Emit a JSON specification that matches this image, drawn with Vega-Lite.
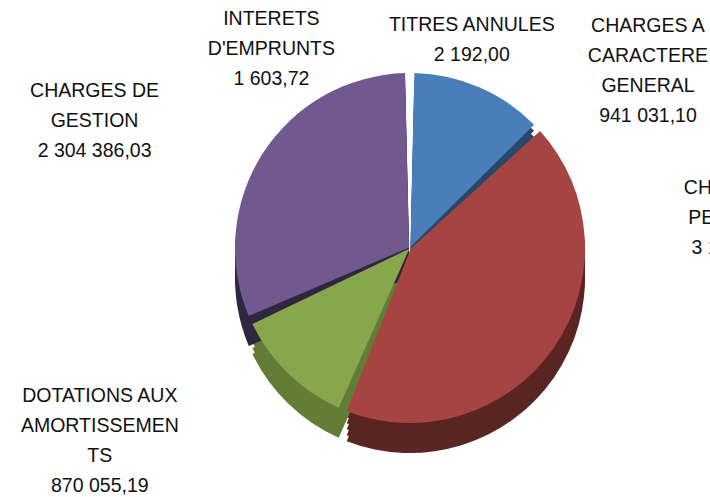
{
  "$schema": "https://vega.github.io/schema/vega-lite/v6.json",
  "width": 600,
  "height": 496,
  "autosize": {"type": "none"},
  "padding": {"left": 110, "top": 0, "right": 0, "bottom": 1},
  "background": "white",
  "config": {"view": {"stroke": null}, "text": {"font": "Liberation Sans", "fontSize": 19.5, "color": "#111111", "lineHeight": 30, "lineBreak": "\n"}},
  "data": {"values": [
    {"ord": 1, "cat": "CHARGES A CARACTERE GENERAL", "value": 941031.10, "label": "CHARGES A\nCARACTERE\nGENERAL\n941 031,10"},
    {"ord": 2, "cat": "CHARGES DE PERSONNEL", "value": 3150000.00, "label": "CHARGES DE\nPERSONNEL\n3 150 000,00"},
    {"ord": 3, "cat": "DOTATIONS AUX AMORTISSEMENTS", "value": 870055.19, "label": "DOTATIONS AUX\nAMORTISSEMEN\nTS\n870 055,19"},
    {"ord": 4, "cat": "CHARGES DE GESTION", "value": 2304386.03, "label": "CHARGES DE\nGESTION\n2 304 386,03"},
    {"ord": 5, "cat": "INTERETS D'EMPRUNTS", "value": 1603.72, "label": "INTERETS\nD'EMPRUNTS\n1 603,72"},
    {"ord": 6, "cat": "TITRES ANNULES", "value": 2192.00, "label": "TITRES  ANNULES\n2 192,00"}
  ]},
  "encoding": {
    "theta": {"field": "value", "type": "quantitative", "stack": true},
    "order": {"field": "ord", "type": "quantitative"}
  },
  "layer": [
    {"mark": {"type": "arc", "outerRadius": 175, "innerRadius": 1, "padAngle": 0.05, "yOffset": 6},
     "encoding": {"color": {"field": "cat", "type": "nominal", "legend": null, "sort": null,
       "scale": {"domain": ["CHARGES A CARACTERE GENERAL", "CHARGES DE PERSONNEL", "DOTATIONS AUX AMORTISSEMENTS", "CHARGES DE GESTION", "INTERETS D'EMPRUNTS", "TITRES ANNULES"],
                 "range": ["#2A4668", "#5A2422", "#637C36", "#2F2640", "#2E6B7A", "#9A5A26"]}}}},
    {"mark": {"type": "arc", "outerRadius": 175, "innerRadius": 1, "padAngle": 0.05, "yOffset": 12},
     "encoding": {"color": {"field": "cat", "type": "nominal", "legend": null, "sort": null}}},
    {"mark": {"type": "arc", "outerRadius": 175, "innerRadius": 1, "padAngle": 0.05, "yOffset": 18},
     "encoding": {"color": {"field": "cat", "type": "nominal", "legend": null, "sort": null}}},
    {"mark": {"type": "arc", "outerRadius": 175, "innerRadius": 1, "padAngle": 0.05, "yOffset": 24},
     "encoding": {"color": {"field": "cat", "type": "nominal", "legend": null, "sort": null}}},
    {"mark": {"type": "arc", "outerRadius": 175, "innerRadius": 1, "padAngle": 0.05, "yOffset": 30},
     "encoding": {"color": {"field": "cat", "type": "nominal", "legend": null, "sort": null}}},
    {"mark": {"type": "arc", "outerRadius": 175, "innerRadius": 1, "padAngle": 0.05, "yOffset": 0},
     "encoding": {"fill": {"field": "cat", "type": "nominal", "legend": null, "sort": null,
       "scale": {"domain": ["CHARGES A CARACTERE GENERAL", "CHARGES DE PERSONNEL", "DOTATIONS AUX AMORTISSEMENTS", "CHARGES DE GESTION", "INTERETS D'EMPRUNTS", "TITRES ANNULES"],
                 "range": ["#4A7EBB", "#A54441", "#88A64C", "#71588F", "#4BACC6", "#F79646"]}}}},
    {"mark": {"type": "text", "radius": 230, "dx": 147, "dy": -11},
     "encoding": {"text": {"condition": {"test": "datum.ord == 1", "field": "label"}, "value": ""}}},
    {"mark": {"type": "text", "radius": 230, "dx": 149, "dy": -191},
     "encoding": {"text": {"condition": {"test": "datum.ord == 2", "field": "label"}, "value": ""}}},
    {"mark": {"type": "text", "radius": 230, "dx": -150, "dy": -17},
     "encoding": {"text": {"condition": {"test": "datum.ord == 3", "field": "label"}, "value": ""}}},
    {"mark": {"type": "text", "radius": 230, "dx": -122, "dy": -33},
     "encoding": {"text": {"condition": {"test": "datum.ord == 4", "field": "label"}, "value": ""}}},
    {"mark": {"type": "text", "radius": 230, "dx": -138, "dy": 1},
     "encoding": {"text": {"condition": {"test": "datum.ord == 5", "field": "label"}, "value": ""}}},
    {"mark": {"type": "text", "radius": 230, "dx": 62, "dy": 7},
     "encoding": {"text": {"condition": {"test": "datum.ord == 6", "field": "label"}, "value": ""}}}
  ]
}
